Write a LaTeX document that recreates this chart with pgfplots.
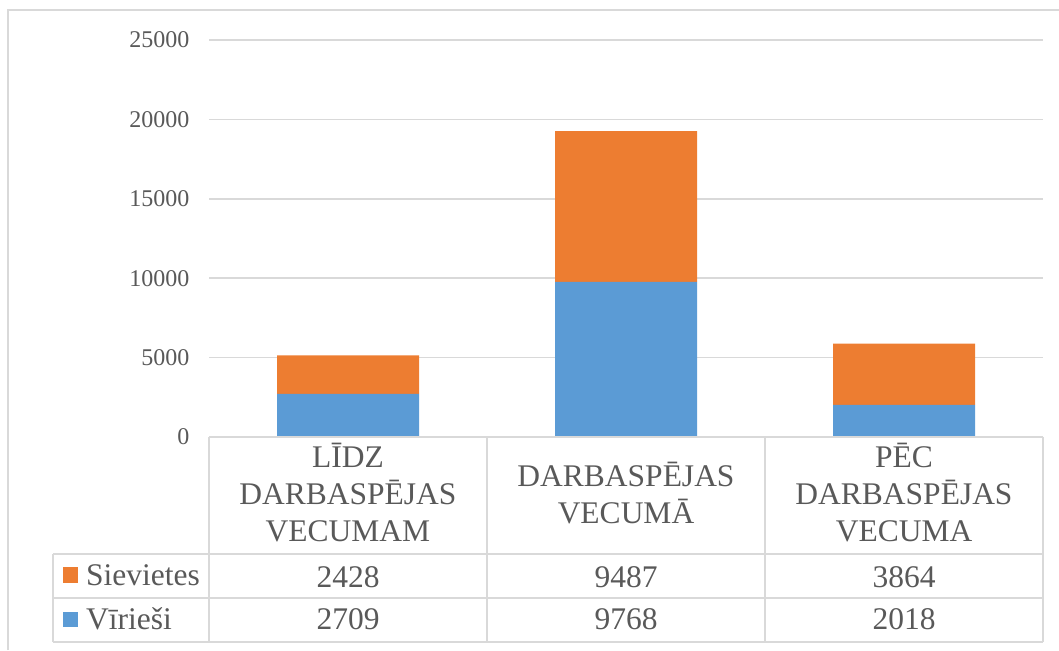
\documentclass[border=0pt]{standalone}
\usepackage{pgfplots}
\pgfplotsset{compat=1.18}
\usepackage{fontspec}
\setmainfont{Liberation Serif}
\definecolor{gridc}{HTML}{D9D9D9}
\definecolor{txt}{HTML}{595959}
\definecolor{cblue}{HTML}{5B9BD5}
\definecolor{corange}{HTML}{ED7D31}
\newcommand\tabfont{\fontsize{31.5}{37}\selectfont}
\begin{document}
\begin{tikzpicture}[x=1pt,y=1pt]
\useasboundingbox (0,0) rectangle (1059,650);
\draw[gridc,line width=1.5pt] (8,0) -- (8,640) -- (1059,640);
\begin{axis}[at={(209pt,213pt)},anchor=south west,
  scale only axis, width=834pt, height=397pt,
  xmin=-0.5, xmax=2.5, ymin=0, ymax=25000,
  ytick={0,5000,10000,15000,20000,25000}, xtick=\empty,
  axis line style={draw=none}, major tick style={draw=none},
  ymajorgrids, grid style={gridc,line width=1.5pt},
  ybar stacked, bar width=142pt,
  scaled y ticks=false,
  /pgf/number format/assume math mode=true,
  /pgf/number format/1000 sep={},
  yticklabel style={font=\fontsize{24}{28}\selectfont, text=txt, xshift=-16pt},
  clip=false]
\addplot[fill=cblue, draw=none] coordinates {(0,2709) (1,9768) (2,2018)};
\addplot[fill=corange, draw=none] coordinates {(0,2428) (1,9487) (2,3864)};
\end{axis}
% data table grid
\draw[gridc,line width=1.5pt] (209,213) -- (1043,213);
\draw[gridc,line width=1.5pt] (53,96) -- (1043,96);
\draw[gridc,line width=1.5pt] (53,52) -- (1043,52);
\draw[gridc,line width=1.5pt] (53,8) -- (1043,8);
\foreach \xx in {209,487,765,1043} \draw[gridc,line width=1.5pt] (\xx,213) -- (\xx,8);
\draw[gridc,line width=1.5pt] (53,96) -- (53,8);
% category labels
\begin{scope}[every node/.style={anchor=base,text=txt,font=\tabfont,inner sep=0pt}]
\node at (348,182) {LĪDZ};
\node at (348,145) {DARBASPĒJAS};
\node at (348,108) {VECUMAM};
\node at (626,163) {DARBASPĒJAS};
\node at (626,126) {VECUMĀ};
\node at (904,182) {PĒC};
\node at (904,145) {DARBASPĒJAS};
\node at (904,108) {VECUMA};
\node at (348,63) {2428};
\node at (626,63) {9487};
\node at (904,63) {3864};
\node at (348,21) {2709};
\node at (626,21) {9768};
\node at (904,21) {2018};
\node[anchor=base west] at (86,64) {Sievietes};
\node[anchor=base west] at (86,21) {Vīrieši};
\end{scope}
\fill[corange] (63,67) rectangle (78,83);
\fill[cblue] (63,23) rectangle (78,38);
\end{tikzpicture}
\end{document}
